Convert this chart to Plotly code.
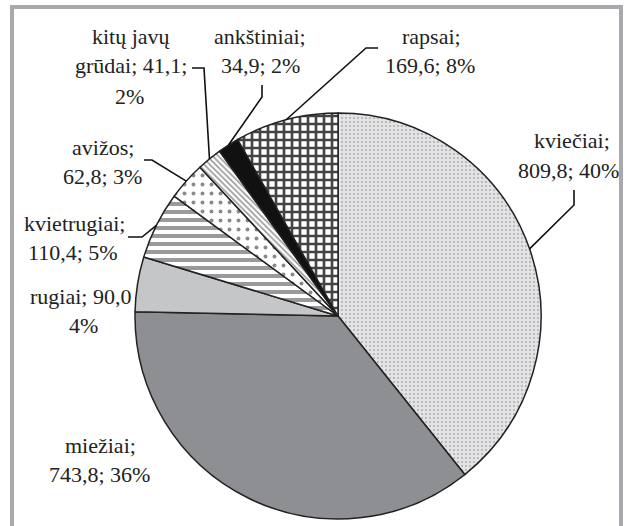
import math
import plotly.graph_objects as go

# ---- data ----
categories = ["kviečiai", "miežiai", "rugiai", "kvietrugiai", "avižos",
              "kitų javų grūdai", "ankštiniai", "rapsai"]
values = [809.8, 743.8, 90.0, 110.4, 62.8, 41.1, 34.9, 169.6]
percents = ["40%", "36%", "4%", "5%", "3%", "2%", "2%", "8%"]

# ---- layout / style ----
W, H = 624, 526
CX, CY, R = 338, 316, 203  # pie centre and radius in pixels

label_lines = [
    lambda n, v, p: [f"{n};", f"{v}; {p}"],
    lambda n, v, p: [f"{n};", f"{v}; {p}"],
    lambda n, v, p: [f"{n}; {v}", f"{p}"],
    lambda n, v, p: [f"{n};", f"{v}; {p}"],
    lambda n, v, p: [f"{n};", f"{v}; {p}"],
    lambda n, v, p: ["kitų javų", f"grūdai; {v};", f"{p}"],
    lambda n, v, p: [f"{n};", f"{v}; {p}"],
    lambda n, v, p: [f"{n};", f"{v}; {p}"],
]
# pixel centre of each label line
label_pos = [
    [(572, 140), (568, 170)],
    [(100, 445), (99, 474)],
    [(80, 296), (83, 325)],
    [(74, 223), (73, 253)],
    [(103, 147), (102, 176)],
    [(131, 36), (131, 66), (129, 96)],
    [(260, 36), (260, 66)],
    [(431, 36), (430, 66)],
]
# leader line: start point near label and elbow (pixels); ends at slice mid on the rim
leaders = {
    0: [(574, 190), (574, 205)],
    3: [(128, 237), (142, 237)],
    4: [(144, 160), (152, 160)],
    5: [(192, 68), (204, 68)],
    6: [(262, 85), (262, 97)],
    7: [(378, 48), (366, 48)],
}

bg_colors = ["#e6e6e8", "#8e8f92", "#c5c6c8", "#ffffff", "#ffffff", "#ffffff", "#111111", "#ffffff"]
pat_shape = [".", "", "", "-", ".", "\\", "", "+"]
pat_fg = ["#bcbcbe", "#8e8f92", "#c5c6c8", "#9a9a9c", "#8a8a8a", "#9a9a9a", "#111111", "#444444"]
pat_size = [4, 8, 8, 8, 9, 4, 8, 8]
pat_sol = [0.3, 0.3, 0.3, 0.5, 0.15, 0.4, 0.3, 0.55]


def fmt(v):
    return f"{v:.1f}".replace(".", ",")


def px2paper(x, y):
    return x / W, 1 - y / H


fig = go.Figure()
fig.add_trace(go.Pie(
    labels=categories,
    values=values,
    sort=False,
    direction="clockwise",
    rotation=0,
    textinfo="none",
    hoverinfo="skip",
    showlegend=False,
    domain=dict(x=[(CX - R) / W, (CX + R) / W],
                y=[(H - CY - R) / H, (H - CY + R) / H]),
    marker=dict(
        colors=bg_colors,
        line=dict(color="#222222", width=1.5),
        pattern=dict(shape=pat_shape, fgcolor=pat_fg, bgcolor=bg_colors,
                     size=pat_size, solidity=pat_sol, fillmode="replace"),
    ),
))

total = sum(values)
cum = 0.0
shapes = []
annotations = []
for i, (n, v, p) in enumerate(zip(categories, values, percents)):
    theta = 2 * math.pi * (cum + v / 2) / total
    cum += v
    ex = CX + R * math.sin(theta)
    ey = CY - R * math.cos(theta)
    lines = label_lines[i](n, fmt(v), p)
    for txt, (lx, ly) in zip(lines, label_pos[i]):
        ax, ay = px2paper(lx, ly)
        annotations.append(dict(
            x=ax, y=ay, xref="paper", yref="paper", text=txt, showarrow=False,
            xanchor="center", yanchor="middle",
            font=dict(family="Liberation Serif", size=22, color="#222222"),
        ))
    if i in leaders:
        pts = leaders[i] + [(ex, ey)]
        path = "M " + " L ".join(f"{px2paper(x, y)[0]},{px2paper(x, y)[1]}" for x, y in pts)
        shapes.append(dict(type="path", path=path, xref="paper", yref="paper",
                           line=dict(color="#111111", width=1.6)))

# outer grey frame
fx0, fy0 = px2paper(12, 7)
fx1, fy1 = px2paper(621, 545)
shapes.append(dict(type="rect", xref="paper", yref="paper", x0=fx0, y0=fy1, x1=fx1, y1=fy0,
                   line=dict(color="#a9a9ad", width=4), fillcolor="rgba(0,0,0,0)", layer="below"))

fig.update_layout(
    width=W, height=H,
    margin=dict(l=0, r=0, t=0, b=0),
    paper_bgcolor="white",
    plot_bgcolor="white",
    shapes=shapes,
    annotations=annotations,
)

fig.write_html("out.html", config={"displayModeBar": False},
               post_script="document.body.style.margin='0';document.body.style.overflow='hidden';")
